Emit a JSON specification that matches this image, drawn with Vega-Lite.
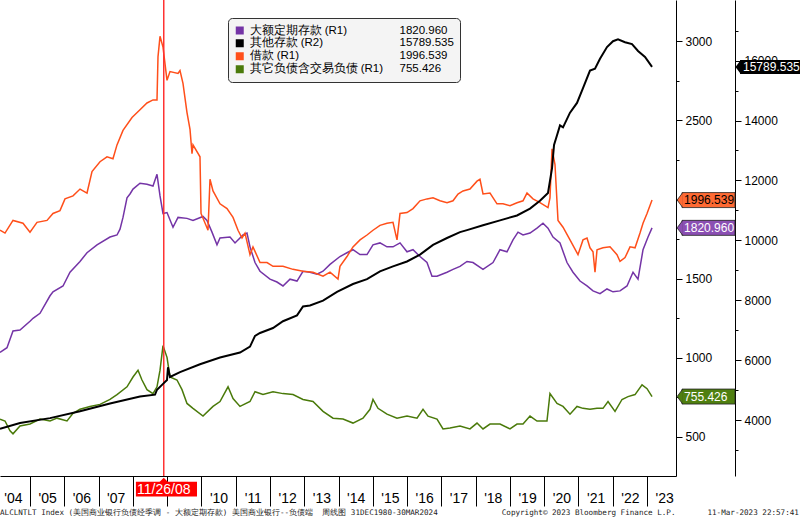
{
"$schema":"https://vega.github.io/schema/vega-lite/v6.json",
"width":676,"height":476,
"autosize":"none",
"padding":{"left":0,"top":0,"right":124,"bottom":43},
"background":"white",
"config":{"view":{"stroke":null},"axis":{"labelFont":"Liberation Sans","labelColor":"#000000","tickColor":"#000000","domainColor":"#000000","grid":false,"tickWidth":1,"domainWidth":1}},
"title":{"text":"ALCLNTLT Index (美国商业银行负债经季调 - 大额定期存款) 美国商业银行--负债端\u00a0\u00a0周线图 31DEC1980-30MAR2024\u00a0\u00a0\u00a0\u00a0\u00a0\u00a0\u00a0\u00a0\u00a0\u00a0\u00a0\u00a0\u00a0\u00a0Copyright© 2023 Bloomberg Finance L.P.\u00a0\u00a0\u00a0\u00a0\u00a0\u00a0\u00a011-Mar-2023 22:57:41","orient":"bottom","anchor":"start","frame":"group","font":"DejaVu Sans Mono","fontSize":7.6,"fontWeight":"normal","color":"#222222","offset":2,"baseline":"top"},
"datasets":{
"purple":[{"t":2004.125,"v":1034},{"t":2004.329,"v":1064},{"t":2004.504,"v":1170},{"t":2004.708,"v":1176},{"t":2005.0,"v":1231},{"t":2005.088,"v":1250},{"t":2005.292,"v":1281},{"t":2005.584,"v":1392},{"t":2005.671,"v":1417},{"t":2005.963,"v":1454},{"t":2006.167,"v":1541},{"t":2006.459,"v":1609},{"t":2006.663,"v":1664},{"t":2006.955,"v":1714},{"t":2007.334,"v":1763},{"t":2007.538,"v":1776},{"t":2007.626,"v":1813},{"t":2007.713,"v":1887},{"t":2007.830,"v":2011},{"t":2007.917,"v":2035},{"t":2008.005,"v":2066},{"t":2008.209,"v":2103},{"t":2008.413,"v":2097},{"t":2008.588,"v":2085},{"t":2008.705,"v":2159},{"t":2008.793,"v":2023},{"t":2008.880,"v":1912},{"t":2008.997,"v":1918},{"t":2009.172,"v":1825},{"t":2009.318,"v":1887},{"t":2009.580,"v":1881},{"t":2009.755,"v":1868},{"t":2010.047,"v":1893},{"t":2010.163,"v":1868},{"t":2010.309,"v":1794},{"t":2010.455,"v":1714},{"t":2010.543,"v":1757},{"t":2010.835,"v":1763},{"t":2010.981,"v":1726},{"t":2011.214,"v":1776},{"t":2011.330,"v":1788},{"t":2011.418,"v":1701},{"t":2011.564,"v":1602},{"t":2011.710,"v":1547},{"t":2012.001,"v":1497},{"t":2012.205,"v":1479},{"t":2012.380,"v":1454},{"t":2012.585,"v":1497},{"t":2012.789,"v":1485},{"t":2012.964,"v":1547},{"t":2013.168,"v":1541},{"t":2013.373,"v":1528},{"t":2013.548,"v":1547},{"t":2013.752,"v":1590},{"t":2014.043,"v":1640},{"t":2014.247,"v":1664},{"t":2014.422,"v":1683},{"t":2014.627,"v":1652},{"t":2014.831,"v":1652},{"t":2015.006,"v":1714},{"t":2015.210,"v":1726},{"t":2015.414,"v":1701},{"t":2015.589,"v":1701},{"t":2015.794,"v":1726},{"t":2015.998,"v":1670},{"t":2016.173,"v":1683},{"t":2016.377,"v":1640},{"t":2016.581,"v":1602},{"t":2016.727,"v":1516},{"t":2016.873,"v":1516},{"t":2017.165,"v":1541},{"t":2017.340,"v":1559},{"t":2017.544,"v":1578},{"t":2017.748,"v":1609},{"t":2017.923,"v":1602},{"t":2018.215,"v":1559},{"t":2018.507,"v":1602},{"t":2018.711,"v":1683},{"t":2018.915,"v":1670},{"t":2019.090,"v":1745},{"t":2019.236,"v":1794},{"t":2019.382,"v":1776},{"t":2019.586,"v":1788},{"t":2019.790,"v":1819},{"t":2019.965,"v":1850},{"t":2020.111,"v":1819},{"t":2020.257,"v":1763},{"t":2020.461,"v":1726},{"t":2020.665,"v":1602},{"t":2020.840,"v":1541},{"t":2021.045,"v":1485},{"t":2021.249,"v":1454},{"t":2021.424,"v":1423},{"t":2021.628,"v":1405},{"t":2021.832,"v":1435},{"t":2022.007,"v":1417},{"t":2022.212,"v":1423},{"t":2022.416,"v":1454},{"t":2022.591,"v":1541},{"t":2022.737,"v":1497},{"t":2022.883,"v":1683},{"t":2023.029,"v":1763},{"t":2023.146,"v":1821}],
"orange":[{"t":2004.125,"v":1806},{"t":2004.271,"v":1788},{"t":2004.504,"v":1868},{"t":2004.796,"v":1850},{"t":2005.0,"v":1794},{"t":2005.204,"v":1856},{"t":2005.496,"v":1868},{"t":2005.671,"v":1912},{"t":2005.875,"v":1930},{"t":2006.021,"v":2004},{"t":2006.255,"v":2023},{"t":2006.459,"v":2066},{"t":2006.663,"v":2041},{"t":2006.809,"v":2177},{"t":2007.042,"v":2239},{"t":2007.246,"v":2270},{"t":2007.421,"v":2258},{"t":2007.538,"v":2345},{"t":2007.713,"v":2437},{"t":2007.976,"v":2518},{"t":2008.209,"v":2567},{"t":2008.413,"v":2610},{"t":2008.588,"v":2629},{"t":2008.705,"v":2629},{"t":2008.734,"v":2901},{"t":2008.793,"v":3031},{"t":2008.880,"v":2963},{"t":2008.997,"v":2753},{"t":2009.084,"v":2808},{"t":2009.318,"v":2796},{"t":2009.376,"v":2815},{"t":2009.463,"v":2734},{"t":2009.580,"v":2549},{"t":2009.668,"v":2443},{"t":2009.726,"v":2289},{"t":2009.755,"v":2345},{"t":2009.959,"v":2270},{"t":2009.989,"v":1912},{"t":2010.193,"v":1806},{"t":2010.251,"v":2128},{"t":2010.339,"v":2054},{"t":2010.543,"v":1973},{"t":2010.747,"v":1943},{"t":2010.923,"v":1887},{"t":2011.068,"v":1806},{"t":2011.185,"v":1757},{"t":2011.272,"v":1788},{"t":2011.418,"v":1652},{"t":2011.505,"v":1701},{"t":2011.710,"v":1602},{"t":2011.914,"v":1602},{"t":2012.089,"v":1578},{"t":2012.380,"v":1578},{"t":2012.672,"v":1559},{"t":2012.964,"v":1547},{"t":2013.256,"v":1541},{"t":2013.548,"v":1516},{"t":2013.752,"v":1541},{"t":2013.985,"v":1497},{"t":2014.043,"v":1578},{"t":2014.247,"v":1640},{"t":2014.422,"v":1701},{"t":2014.627,"v":1745},{"t":2014.831,"v":1776},{"t":2015.006,"v":1806},{"t":2015.210,"v":1837},{"t":2015.414,"v":1850},{"t":2015.589,"v":1856},{"t":2015.706,"v":1745},{"t":2015.794,"v":1912},{"t":2015.998,"v":1918},{"t":2016.173,"v":1943},{"t":2016.377,"v":1992},{"t":2016.581,"v":2004},{"t":2016.757,"v":2011},{"t":2016.961,"v":1992},{"t":2017.165,"v":1980},{"t":2017.340,"v":1992},{"t":2017.486,"v":2035},{"t":2017.632,"v":2054},{"t":2017.835,"v":2066},{"t":2018.040,"v":2116},{"t":2018.127,"v":2128},{"t":2018.215,"v":2035},{"t":2018.419,"v":2041},{"t":2018.623,"v":1973},{"t":2018.798,"v":1973},{"t":2019.002,"v":1961},{"t":2019.207,"v":1980},{"t":2019.382,"v":1992},{"t":2019.498,"v":2041},{"t":2019.673,"v":2004},{"t":2019.877,"v":1980},{"t":2020.111,"v":1949},{"t":2020.169,"v":2011},{"t":2020.228,"v":2320},{"t":2020.315,"v":2221},{"t":2020.403,"v":1868},{"t":2020.549,"v":1825},{"t":2020.753,"v":1745},{"t":2020.986,"v":1652},{"t":2021.132,"v":1745},{"t":2021.249,"v":1757},{"t":2021.336,"v":1695},{"t":2021.424,"v":1670},{"t":2021.482,"v":1541},{"t":2021.541,"v":1683},{"t":2021.716,"v":1695},{"t":2021.920,"v":1701},{"t":2022.124,"v":1652},{"t":2022.212,"v":1609},{"t":2022.358,"v":1633},{"t":2022.504,"v":1701},{"t":2022.650,"v":1695},{"t":2022.795,"v":1788},{"t":2022.883,"v":1850},{"t":2023.000,"v":1912},{"t":2023.146,"v":1997}],
"green":[{"t":2004.125,"v":613},{"t":2004.271,"v":601},{"t":2004.417,"v":539},{"t":2004.504,"v":520},{"t":2004.708,"v":570},{"t":2005.0,"v":582},{"t":2005.292,"v":613},{"t":2005.584,"v":601},{"t":2005.788,"v":619},{"t":2006.080,"v":601},{"t":2006.255,"v":650},{"t":2006.459,"v":675},{"t":2006.750,"v":693},{"t":2007.042,"v":706},{"t":2007.334,"v":737},{"t":2007.538,"v":768},{"t":2007.830,"v":817},{"t":2008.005,"v":879},{"t":2008.151,"v":922},{"t":2008.267,"v":860},{"t":2008.413,"v":799},{"t":2008.588,"v":774},{"t":2008.705,"v":817},{"t":2008.793,"v":922},{"t":2008.880,"v":1077},{"t":2008.997,"v":1003},{"t":2009.084,"v":879},{"t":2009.288,"v":860},{"t":2009.434,"v":799},{"t":2009.580,"v":712},{"t":2009.755,"v":681},{"t":2010.047,"v":632},{"t":2010.339,"v":693},{"t":2010.543,"v":724},{"t":2010.777,"v":817},{"t":2010.923,"v":743},{"t":2011.126,"v":693},{"t":2011.418,"v":724},{"t":2011.564,"v":786},{"t":2011.797,"v":768},{"t":2012.089,"v":786},{"t":2012.380,"v":774},{"t":2012.672,"v":768},{"t":2012.964,"v":737},{"t":2013.256,"v":724},{"t":2013.548,"v":662},{"t":2013.840,"v":619},{"t":2014.131,"v":613},{"t":2014.422,"v":588},{"t":2014.714,"v":619},{"t":2014.919,"v":675},{"t":2015.006,"v":737},{"t":2015.152,"v":681},{"t":2015.414,"v":644},{"t":2015.706,"v":619},{"t":2015.998,"v":632},{"t":2016.290,"v":619},{"t":2016.465,"v":675},{"t":2016.611,"v":632},{"t":2016.873,"v":613},{"t":2017.048,"v":551},{"t":2017.252,"v":557},{"t":2017.544,"v":570},{"t":2017.835,"v":551},{"t":2018.040,"v":588},{"t":2018.215,"v":551},{"t":2018.419,"v":582},{"t":2018.711,"v":582},{"t":2019.002,"v":551},{"t":2019.207,"v":582},{"t":2019.382,"v":582},{"t":2019.586,"v":632},{"t":2019.790,"v":601},{"t":2020.081,"v":601},{"t":2020.169,"v":774},{"t":2020.374,"v":712},{"t":2020.549,"v":693},{"t":2020.753,"v":644},{"t":2020.957,"v":693},{"t":2021.132,"v":681},{"t":2021.336,"v":675},{"t":2021.541,"v":681},{"t":2021.716,"v":681},{"t":2021.862,"v":724},{"t":2022.066,"v":662},{"t":2022.270,"v":737},{"t":2022.445,"v":755},{"t":2022.650,"v":768},{"t":2022.854,"v":829},{"t":2023.000,"v":805},{"t":2023.146,"v":755}],
"black":[{"t":2004.125,"v":3706},{"t":2004.708,"v":3902},{"t":2005.584,"v":4065},{"t":2006.459,"v":4294},{"t":2007.334,"v":4555},{"t":2008.209,"v":4784},{"t":2008.647,"v":4849},{"t":2008.705,"v":5013},{"t":2008.880,"v":5209},{"t":2008.997,"v":5340},{"t":2009.026,"v":5764},{"t":2009.084,"v":5438},{"t":2009.376,"v":5601},{"t":2009.959,"v":5862},{"t":2010.543,"v":6091},{"t":2011.126,"v":6255},{"t":2011.418,"v":6451},{"t":2011.564,"v":6810},{"t":2011.710,"v":6908},{"t":2012.089,"v":7072},{"t":2012.380,"v":7300},{"t":2012.789,"v":7496},{"t":2012.964,"v":7791},{"t":2013.168,"v":7823},{"t":2013.548,"v":7987},{"t":2013.956,"v":8281},{"t":2014.422,"v":8542},{"t":2014.831,"v":8706},{"t":2015.210,"v":8967},{"t":2015.589,"v":9130},{"t":2015.998,"v":9294},{"t":2016.377,"v":9523},{"t":2016.757,"v":9849},{"t":2017.165,"v":10078},{"t":2017.544,"v":10274},{"t":2017.748,"v":10340},{"t":2018.215,"v":10503},{"t":2018.711,"v":10666},{"t":2019.207,"v":10830},{"t":2019.586,"v":11059},{"t":2019.877,"v":11320},{"t":2020.111,"v":11581},{"t":2020.228,"v":12398},{"t":2020.287,"v":13183},{"t":2020.374,"v":13510},{"t":2020.461,"v":13836},{"t":2020.549,"v":13771},{"t":2020.753,"v":14261},{"t":2020.957,"v":14588},{"t":2021.132,"v":15078},{"t":2021.336,"v":15666},{"t":2021.482,"v":15732},{"t":2021.628,"v":16059},{"t":2021.832,"v":16451},{"t":2022.007,"v":16647},{"t":2022.153,"v":16712},{"t":2022.358,"v":16614},{"t":2022.562,"v":16549},{"t":2022.737,"v":16320},{"t":2022.941,"v":16124},{"t":2023.146,"v":15790}],
"tagsR1":[{"series":"借款 (R1)","v":1996.539,"label":"1996.539"},{"series":"大额定期存款 (R1)","v":1820.96,"label":"1820.960"},{"series":"其它负债含交易负债 (R1)","v":755.426,"label":"755.426"}],
"tagR2":[{"series":"其他存款 (R2)","v":15789.535,"label":"15789.535"}],
"event":[{"date":2008.902,"label":"11/26/08"}]
},
"layer":[
{"layer":[
 {"data":{"name":"purple"},"mark":{"type":"line","strokeWidth":1.5},
  "encoding":{
   "x":{"field":"t","type":"quantitative","scale":{"domain":[2004.125,2023.845],"nice":false,"zero":false},
        "axis":{"orient":"bottom","values":[2005,2006,2007,2008,2009,2010,2011,2012,2013,2014,2015,2016,2017,2018,2019,2020,2021,2022,2023],"tickCount":40,"tickSize":30,"labels":false,"domain":true,"ticks":true,"title":null}},
   "y":{"field":"v","type":"quantitative","scale":{"domain":[285.2,3228.8],"nice":false,"zero":false},
        "axis":{"orient":"right","offset":0,"values":[500,750,1000,1250,1500,1750,2000,2250,2500,2750,3000],"tickCount":40,"labelExpr":"datum.value % 500 === 0 && datum.value !== 2000 ? datum.label : ''","tickSize":{"condition":{"test":"datum.value % 500 === 0","value":6},"value":3},"format":"d","labelFontSize":12,"labelPadding":3,"title":null,"labelOverlap":false,"labelFlush":false}},
   "color":{"datum":"大额定期存款 (R1)",
     "scale":{"domain":["大额定期存款 (R1)","其他存款 (R2)","借款 (R1)","其它负债含交易负债 (R1)","1820.960","15789.535","1996.539","755.426"],
              "range":["#7434a6","#000000","#ff4f1a","#4a7a0a","rgba(0,0,0,0)","rgba(0,0,0,0)","rgba(0,0,0,0)","rgba(0,0,0,0)"]},
     "legend":{"orient":"none","legendX":228,"legendY":18,"columns":2,"columnPadding":0,"rowPadding":0,"clipHeight":12.5,"symbolType":"square","symbolSize":16,"symbolStrokeWidth":4,"labelOffset":4,"labelFont":"Liberation Sans","labelFontSize":11.5,"labelColor":"#000000","padding":6,"fillColor":"#f4f4f4","strokeColor":"#333333","cornerRadius":4,"title":null,"labelLimit":300}}
  }},
 {"data":{"name":"orange"},"mark":{"type":"line","strokeWidth":1.5},
  "encoding":{"x":{"field":"t","type":"quantitative","scale":{"domain":[2004.125,2023.845],"nice":false,"zero":false}},
   "y":{"field":"v","type":"quantitative","scale":{"domain":[285.2,3228.8],"nice":false,"zero":false}},
   "color":{"datum":"借款 (R1)"}}},
 {"data":{"name":"green"},"mark":{"type":"line","strokeWidth":1.5},
  "encoding":{"x":{"field":"t","type":"quantitative","scale":{"domain":[2004.125,2023.845],"nice":false,"zero":false}},
   "y":{"field":"v","type":"quantitative","scale":{"domain":[285.2,3228.8],"nice":false,"zero":false}},
   "color":{"datum":"其它负债含交易负债 (R1)"}}},
 {"data":{"name":"event"},"mark":{"type":"rule","color":"#ff3333","strokeWidth":1.5},
  "encoding":{"x":{"field":"date","type":"quantitative","scale":{"domain":[2004.125,2023.845],"nice":false,"zero":false}}}},
 {"data":{"name":"event"},"mark":{"type":"rect","color":"#ff0000"},
  "encoding":{"x":{"datum":2008.09,"type":"quantitative","scale":{"domain":[2004.125,2023.845],"nice":false,"zero":false}},"x2":{"datum":2009.872},
   "y":{"datum":217,"type":"quantitative","scale":{"domain":[285.2,3228.8],"nice":false,"zero":false}},"y2":{"datum":124}}},
 {"data":{"name":"event"},"mark":{"type":"point","shape":"M-1,0.5L0,-0.5L1,0.5Z","size":100,"filled":true,"color":"#ff0000","opacity":1},
  "encoding":{"x":{"field":"date","type":"quantitative","scale":{"domain":[2004.125,2023.845],"nice":false,"zero":false}},
   "y":{"datum":226.5,"type":"quantitative","scale":{"domain":[285.2,3228.8],"nice":false,"zero":false}}}},
 {"data":{"name":"event"},"mark":{"type":"text","color":"#ffffff","font":"Liberation Sans","fontSize":14,"align":"center","baseline":"middle"},
  "encoding":{"x":{"field":"date","type":"quantitative","scale":{"domain":[2004.125,2023.845],"nice":false,"zero":false}},
   "y":{"datum":167,"type":"quantitative","scale":{"domain":[285.2,3228.8],"nice":false,"zero":false}},
   "text":{"field":"label"}}},
 {"data":{"name":"tagsR1"},"mark":{"type":"bar","height":15,"stroke":"#222222","strokeWidth":0.8},
  "encoding":{"x":{"datum":2024.02,"type":"quantitative","scale":{"domain":[2004.125,2023.845],"nice":false,"zero":false}},"x2":{"datum":2025.567},
   "y":{"field":"v","type":"quantitative","scale":{"domain":[285.2,3228.8],"nice":false,"zero":false}},
   "color":{"condition":[{"test":"datum.series === '借款 (R1)'","value":"#ff6a33"},{"test":"datum.series === '大额定期存款 (R1)'","value":"#8b4fb3"}],"value":"#4f7f10"}}},
 {"data":{"name":"tagsR1"},"mark":{"type":"point","shape":"M0.1,-1L-0.65,0L0.1,1","size":225,"filled":true,"opacity":1,"stroke":"#222222","strokeWidth":0.8},
  "encoding":{"x":{"datum":2024.02,"type":"quantitative","scale":{"domain":[2004.125,2023.845],"nice":false,"zero":false}},
   "y":{"field":"v","type":"quantitative","scale":{"domain":[285.2,3228.8],"nice":false,"zero":false}},
   "fill":{"condition":[{"test":"datum.series === '借款 (R1)'","value":"#ff6a33"},{"test":"datum.series === '大额定期存款 (R1)'","value":"#8b4fb3"}],"value":"#4f7f10"}}},
 {"data":{"name":"tagsR1"},"mark":{"type":"text","font":"Liberation Sans","fontSize":12,"align":"left","baseline":"middle"},
  "encoding":{"x":{"datum":2024.08,"type":"quantitative","scale":{"domain":[2004.125,2023.845],"nice":false,"zero":false}},
   "y":{"field":"v","type":"quantitative","scale":{"domain":[285.2,3228.8],"nice":false,"zero":false}},
   "text":{"field":"label"},
   "color":{"condition":{"test":"datum.series === '借款 (R1)'","value":"#000000"},"value":"#ffffff"}}}
]},
{"layer":[
 {"data":{"name":"black"},"mark":{"type":"line","strokeWidth":2},
  "encoding":{
   "x":{"field":"t","type":"quantitative","scale":{"domain":[2004.125,2023.845],"nice":false,"zero":false},
        "axis":{"orient":"bottom","values":[2004.5,2005.5,2006.5,2007.5,2008.5,2009.5,2010.5,2011.5,2012.5,2013.5,2014.5,2015.5,2016.5,2017.5,2018.5,2019.5,2020.5,2021.5,2022.5,2023.5],"tickCount":40,"ticks":false,"tickSize":0,"domain":false,"labelExpr":"datum.value === 2008.5 || datum.value === 2009.5 ? '' : \"'\" + slice(toString(floor(datum.value)), 2)","labelFontSize":14,"labelPadding":15,"labelBaseline":"top","labelFlush":false,"labelOverlap":false,"title":null}},
   "y":{"field":"v","type":"quantitative","scale":{"domain":[2300,17856],"nice":false,"zero":false},
        "axis":{"orient":"right","offset":59,"values":[3000,4000,5000,6000,7000,8000,9000,10000,11000,12000,13000,14000,15000,16000,17000],"tickCount":40,"labelExpr":"datum.value % 2000 === 0 ? datum.label : ''","tickSize":{"condition":{"test":"datum.value % 2000 === 0","value":6},"value":3},"format":"d","labelFontSize":12,"labelPadding":3,"title":null,"labelOverlap":false,"labelFlush":false}},
   "color":{"datum":"其他存款 (R2)"}}},
 {"data":{"name":"tagR2"},"mark":{"type":"bar","height":14,"color":"#000000"},
  "encoding":{"x":{"datum":2025.713,"type":"quantitative","scale":{"domain":[2004.125,2023.845],"nice":false,"zero":false}},"x2":{"datum":2027.6},
   "y":{"field":"v","type":"quantitative","scale":{"domain":[2300,17856],"nice":false,"zero":false}}}},
 {"data":{"name":"tagR2"},"mark":{"type":"point","shape":"M0.1,-1L-0.65,0L0.1,1Z","size":196,"filled":true,"opacity":1,"color":"#000000"},
  "encoding":{"x":{"datum":2025.713,"type":"quantitative","scale":{"domain":[2004.125,2023.845],"nice":false,"zero":false}},
   "y":{"field":"v","type":"quantitative","scale":{"domain":[2300,17856],"nice":false,"zero":false}}}},
 {"data":{"name":"tagR2"},"mark":{"type":"text","font":"Liberation Sans","fontSize":12,"align":"left","baseline":"middle","color":"#ffffff"},
  "encoding":{"x":{"datum":2025.80,"type":"quantitative","scale":{"domain":[2004.125,2023.845],"nice":false,"zero":false}},
   "y":{"field":"v","type":"quantitative","scale":{"domain":[2300,17856],"nice":false,"zero":false}},
   "text":{"field":"label"}}}
]}
],
"resolve":{"scale":{"y":"independent"},"axis":{"x":"independent"}}
}
